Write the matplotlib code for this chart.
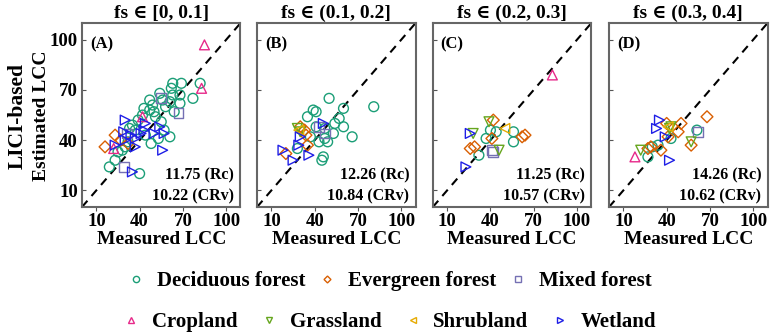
import matplotlib
matplotlib.use("Agg")
import matplotlib.pyplot as plt
from matplotlib.lines import Line2D

plt.rcParams['font.family'] = ['Liberation Serif', 'DejaVu Serif']
plt.rcParams['font.weight'] = 'bold'

# land cover classes: name, marker, colour
classes = ["Deciduous forest", "Evergreen forest", "Mixed forest",
           "Cropland", "Grassland", "Shrubland", "Wetland"]
markers = ["o", "D", "s", "^", "v", "<", ">"]
colors = ["#1b9e77", "#d95f02", "#7570b3", "#e7298a", "#66a61e", "#e6ab02", "#1f1fe6"]

titles = ["fs \u2208 [0, 0.1]", "fs \u2208 (0.1, 0.2]", "fs \u2208 (0.2, 0.3]", "fs \u2208 (0.3, 0.4]"]
labels = ["(A)", "(B)", "(C)", "(D)"]
rc_vals = ["11.75", "12.26", "11.25", "14.26"]
crv_vals = ["10.22", "10.84", "10.57", "10.62"]

# panel A: fs in [0, 0.1]
a_dec_x = [63, 69, 62, 82, 77, 68, 63, 56, 61, 54, 47, 49, 58, 64, 68, 43, 47, 50, 42, 51,
           55, 39, 35, 33, 37, 44, 48, 53, 61, 57, 30, 28, 25, 32, 40, 19, 23]
a_dec_y = [74, 74, 71, 74, 65, 67, 67, 64, 63, 68, 64, 61, 60, 57, 62, 59, 58, 57, 55, 54,
           51, 52, 49, 47, 46, 43, 38, 41, 42, 46, 36, 34, 33, 39, 20, 24, 28]
a_eve_x = [16, 23, 27, 32]
a_eve_y = [36, 43, 40, 38]
a_mix_x = [29, 55, 67, 31]
a_mix_y = [24, 65, 56, 44]
a_cro_x = [85, 83, 42, 22]
a_cro_y = [97, 71, 54, 35]
a_gra_x, a_gra_y = [], []
a_shr_x, a_shr_y = [], []
a_wet_x = [30, 29, 34, 37, 43, 44, 54, 57, 56, 37, 23, 30, 35, 50, 41]
a_wet_y = [52, 45, 43, 41, 46, 50, 48, 44, 34, 36, 37, 40, 21, 44, 44]

# panel B: fs in (0.1, 0.2]
b_dec_x = [50, 81, 60, 39, 41, 35, 57, 54, 60, 53, 47, 49, 66, 43, 46, 45, 37, 28, 41, 47]
b_dec_y = [65, 60, 59, 58, 57, 54, 53, 50, 48, 44, 41, 39, 42, 39, 30, 28, 42, 35, 48, 47]
b_eve_x = [30, 34, 35, 20, 33]
b_eve_y = [48, 43, 37, 32, 46]
b_mix_x = [43, 47]
b_mix_y = [48, 44]
b_cro_x, b_cro_y = [], []
b_gra_x = [28, 30]
b_gra_y = [47, 45]
b_shr_x = [29]
b_shr_y = [46]
b_wet_x = [46, 30, 29, 18, 25, 36]
b_wet_y = [50, 42, 37, 34, 28, 31]

# panel C: fs in (0.2, 0.3]
c_dec_x = [40, 44, 37, 56, 56, 32]
c_dec_y = [46, 45, 41, 45, 39, 31]
c_eve_x = [42, 41, 29, 26, 62, 64]
c_eve_y = [52, 41, 36, 35, 42, 43]
c_mix_x = [41, 42]
c_mix_y = [34, 33]
c_cro_x = [83]
c_cro_y = [79]
c_gra_x = [39, 28, 46]
c_gra_y = [51, 44, 34]
c_shr_x = [50]
c_shr_y = [47]
c_wet_x = [26, 23]
c_wet_y = [44, 24]

# panel D: fs in (0.3, 0.4]
d_dec_x = [61, 43, 30, 27, 34]
d_dec_y = [46, 41, 36, 30, 37]
d_eve_x = [68, 50, 48, 40, 36, 29, 27, 57, 41]
d_eve_y = [54, 50, 45, 50, 34, 36, 35, 37, 42]
d_mix_x = [62]
d_mix_y = [45]
d_cro_x = [18]
d_cro_y = [30]
d_gra_x = [43, 42, 22, 57]
d_gra_y = [48, 47, 34, 39]
d_shr_x = [41]
d_shr_y = [48]
d_wet_x = [35, 33, 39, 42]
d_wet_y = [52, 47, 42, 28]

panels = [
    [(a_dec_x, a_dec_y), (a_eve_x, a_eve_y), (a_mix_x, a_mix_y), (a_cro_x, a_cro_y),
     (a_gra_x, a_gra_y), (a_shr_x, a_shr_y), (a_wet_x, a_wet_y)],
    [(b_dec_x, b_dec_y), (b_eve_x, b_eve_y), (b_mix_x, b_mix_y), (b_cro_x, b_cro_y),
     (b_gra_x, b_gra_y), (b_shr_x, b_shr_y), (b_wet_x, b_wet_y)],
    [(c_dec_x, c_dec_y), (c_eve_x, c_eve_y), (c_mix_x, c_mix_y), (c_cro_x, c_cro_y),
     (c_gra_x, c_gra_y), (c_shr_x, c_shr_y), (c_wet_x, c_wet_y)],
    [(d_dec_x, d_dec_y), (d_eve_x, d_eve_y), (d_mix_x, d_mix_y), (d_cro_x, d_cro_y),
     (d_gra_x, d_gra_y), (d_shr_x, d_shr_y), (d_wet_x, d_wet_y)],
]

fig = plt.figure(figsize=(7.77, 3.35), dpi=100)
lefts = [0.1055, 0.3308, 0.557, 0.7838]
ticks = [10, 40, 70, 100]

for i, left in enumerate(lefts):
    ax = fig.add_axes([left, 0.382, 0.204, 0.549])
    for j, (xs, ys) in enumerate(panels[i]):
        ms = 36 if markers[j] == "D" else 50
        ax.scatter(xs, ys, marker=markers[j], s=ms, facecolors="none",
                   edgecolors=colors[j], linewidths=1.0, zorder=3)
    ax.plot([0, 110], [0, 110], ls=(0, (4, 3)), color="black", lw=1.5, zorder=2)
    ax.set_xlim(0, 110)
    ax.set_ylim(0, 110)
    ax.set_xticks(ticks)
    ax.set_yticks(ticks)
    ax.tick_params(axis="x", direction="out", length=3, labelsize=13.5, pad=1, color="#555555")
    ax.tick_params(axis="y", direction="in", length=3, labelsize=13.5, pad=3, color="#555555")
    for lab in ax.get_xticklabels() + ax.get_yticklabels():
        lab.set_fontweight("bold")
    if i > 0:
        ax.set_yticklabels([])
    for sp in ax.spines.values():
        sp.set_color("#666666")
        sp.set_linewidth(1.5)
    ax.set_title(titles[i], fontsize=14, fontweight="bold", pad=4)
    ax.set_xlabel("Measured LCC", fontsize=14, fontweight="bold", labelpad=1)
    ax.text(0.05, 0.93, labels[i], transform=ax.transAxes, fontsize=12,
            fontweight="bold", va="top", ha="left")
    ax.text(0.96, 0.17, rc_vals[i] + " (Rc)", transform=ax.transAxes, fontsize=11.5,
            fontweight="bold", ha="right", va="center")
    ax.text(0.96, 0.06, crv_vals[i] + " (CRv)", transform=ax.transAxes, fontsize=11.5,
            fontweight="bold", ha="right", va="center")

fig.text(0.023, 0.655, "LICI-based", rotation=90, fontsize=15.5, fontweight="bold",
         ha="center", va="center")
fig.text(0.054, 0.655, "Estimated LCC", rotation=90, fontsize=14, fontweight="bold",
         ha="center", va="center")

handles = [Line2D([], [], marker=markers[j], ls="none", markerfacecolor="none",
                  markeredgecolor=colors[j], markersize=3.5 if markers[j] == "D" else 4.5,
                  markeredgewidth=1.0)
           for j in range(len(classes))]
leg1 = fig.legend(handles[:3], classes[:3], ncol=3, loc="center", bbox_to_anchor=(0.5, 0.16),
                  frameon=False, prop={"size": 15, "weight": "bold"}, handletextpad=0.5,
                  columnspacing=0.55, handlelength=1.0)
leg2 = fig.legend(handles[3:], classes[3:], ncol=4, loc="center", bbox_to_anchor=(0.5, 0.038),
                  frameon=False, prop={"size": 15, "weight": "bold"}, handletextpad=0.5,
                  columnspacing=1.0, handlelength=1.0)

fig.savefig("out.png", dpi=100)
